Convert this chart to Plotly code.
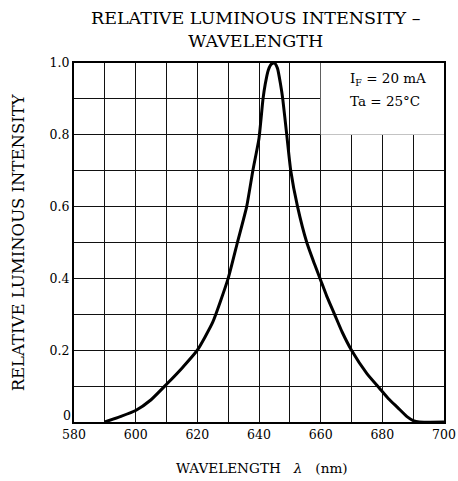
import plotly.graph_objects as go

# Data
wavelength = [590, 595, 600, 605, 610, 615, 620, 625, 630, 633, 636, 638, 640, 641.3, 642, 643, 644, 645,
              646, 647, 647.7, 649, 650.3, 652.5, 655.5, 658, 660, 662, 664.5, 667, 670, 675, 679, 682,
              685, 688, 690, 692, 700]
intensity = [0.0, 0.015, 0.032, 0.062, 0.105, 0.15, 0.2, 0.278, 0.4, 0.5, 0.6, 0.7, 0.79, 0.9, 0.94, 0.98, 0.997, 1.0,
             0.985, 0.94, 0.9, 0.8, 0.7, 0.6, 0.5, 0.44, 0.395, 0.35, 0.3, 0.25, 0.2, 0.135, 0.095, 0.065,
             0.04, 0.015, 0.004, 0.0, 0.0]

x_ticks = list(range(580, 701, 10))
x_labels = [str(v) if v % 20 == 0 else "" for v in x_ticks]
y_ticks = [i / 10 for i in range(11)]
y_labels = ["", "", "0.2", "", "0.4", "", "0.6", "", "0.8", "", "1.0"]
y_zero_label = "0"

FONT = "DejaVu Serif"

fig = go.Figure()
fig.add_trace(go.Scatter(x=wavelength, y=intensity, mode="lines",
                         line=dict(color="black", width=3, shape="spline", smoothing=0.5),
                         showlegend=False, hoverinfo="skip"))

fig.update_layout(
    width=458, height=481,
    margin=dict(l=74, r=14, t=63, b=59),
    paper_bgcolor="white", plot_bgcolor="white",
    font=dict(family=FONT, color="black", size=13),
    showlegend=False,
)

fig.update_xaxes(range=[580, 700], tickvals=x_ticks, ticktext=x_labels,
                 showgrid=True, gridcolor="#111", gridwidth=1,
                 showline=True, linecolor="black", linewidth=2, mirror=True,
                 ticks="", zeroline=False, automargin=False,
                 tickfont=dict(size=12.5, family=FONT))
fig.update_yaxes(range=[0, 1.0], tickvals=y_ticks, ticktext=y_labels,
                 showgrid=True, gridcolor="#111", gridwidth=1,
                 showline=True, linecolor="black", linewidth=2, mirror=True,
                 ticks="", zeroline=False, automargin=False,
                 tickfont=dict(size=12.5, family=FONT))

# "0" label of the y axis sits just above the axis line
fig.add_annotation(text=y_zero_label, xref="paper", yref="y", x=0, y=0,
                   xanchor="right", yanchor="bottom", xshift=-1, yshift=-3, showarrow=False,
                   font=dict(family=FONT, size=12.5, color="black"))

# blank box behind the condition labels
fig.add_shape(type="rect", xref="x", yref="y", x0=660, x1=700, y0=0.8, y1=1.0,
              fillcolor="white", line=dict(width=0), layer="between")

fig.add_annotation(text="RELATIVE LUMINOUS INTENSITY –<br>WAVELENGTH", xref="paper", yref="paper",
                   x=0.49, y=1.093, xanchor="center", yanchor="middle", showarrow=False,
                   font=dict(family=FONT, size=17.5, color="black"))

fig.add_annotation(text="I<sub>F</sub> = 20 mA", xref="x", yref="y", x=669, y=0.955,
                   xanchor="left", yanchor="middle", showarrow=False,
                   font=dict(family=FONT, size=13.5, color="black"))
fig.add_annotation(text="Ta = 25°C", xref="x", yref="y", x=669, y=0.895,
                   xanchor="left", yanchor="middle", showarrow=False,
                   font=dict(family=FONT, size=13.5, color="black"))

fig.add_annotation(text="WAVELENGTH&nbsp;&nbsp;&nbsp;<i>λ</i>&nbsp;&nbsp;&nbsp;(nm)", xref="paper", yref="paper",
                   x=0.508, y=-0.128, xanchor="center", yanchor="middle", showarrow=False,
                   font=dict(family=FONT, size=13.6, color="black"))
fig.add_annotation(text="RELATIVE LUMINOUS INTENSITY", xref="paper", yref="paper",
                   x=-0.149, y=0.5, xanchor="center", yanchor="middle", textangle=-90,
                   showarrow=False, font=dict(family=FONT, size=16.5, color="black"))

# remove the default page margin so the figure fills the window exactly
fig.write_html("out.html",
               config={"displayModeBar": False},
               post_script="document.body.style.margin='0';document.body.style.overflow='hidden';")
